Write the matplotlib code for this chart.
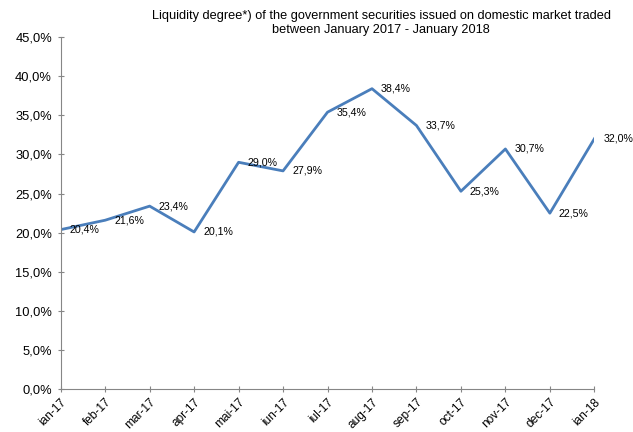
import numpy as np
import matplotlib.pyplot as plt
from matplotlib.ticker import FuncFormatter

plt.rcParams['font.family'] = ['Liberation Sans', 'DejaVu Sans']

months = ['ian-17', 'feb-17', 'mar-17', 'apr-17', 'mai-17', 'iun-17', 'iul-17',
          'aug-17', 'sep-17', 'oct-17', 'nov-17', 'dec-17', 'ian-18']
liquidity = [20.4, 21.6, 23.4, 20.1, 29.0, 27.9, 35.4, 38.4, 33.7, 25.3, 30.7, 22.5, 32.0]

fig = plt.figure(figsize=(6.33, 4.32), dpi=100)
ax = fig.add_axes([0.0959, 0.0988, 0.843, 0.8155])

x = np.arange(len(months))
ax.plot(x, liquidity, color='#4a7ebb', lw=2.0)

# data labels to the right of each point
for xi, v in zip(x, liquidity):
    ax.annotate(f'{v:.1f}%'.replace('.', ','), (xi, v), xytext=(6.5, 0),
                textcoords='offset points', ha='left', va='center', fontsize=7.7,
                annotation_clip=False)

ax.set_xlim(0, len(months) - 1)
ax.set_ylim(0, 45)
ax.set_yticks(np.arange(0, 46, 5))
ax.yaxis.set_major_formatter(FuncFormatter(lambda v, p: f'{v:.1f}%'.replace('.', ',')))
ax.set_xticks(x)
ax.set_xticklabels(months, rotation=45, ha='right', rotation_mode='anchor')

for s in ['top', 'right']:
    ax.spines[s].set_visible(False)
for s in ['left', 'bottom']:
    ax.spines[s].set_color('#868686')
ax.tick_params(colors='#868686', labelcolor='black', direction='inout', length=4.5)
ax.tick_params(axis='y', labelsize=9.3, pad=4)
ax.tick_params(axis='x', labelsize=8.6, pad=2.5)

fig.text(0.602, 0.978, 'Liquidity degree*) of the government securities issued on domestic market traded\nbetween January 2017 - January 2018',
         ha='center', va='top', fontsize=9.2, linespacing=1.3)

fig.savefig('out.png', dpi=100)
